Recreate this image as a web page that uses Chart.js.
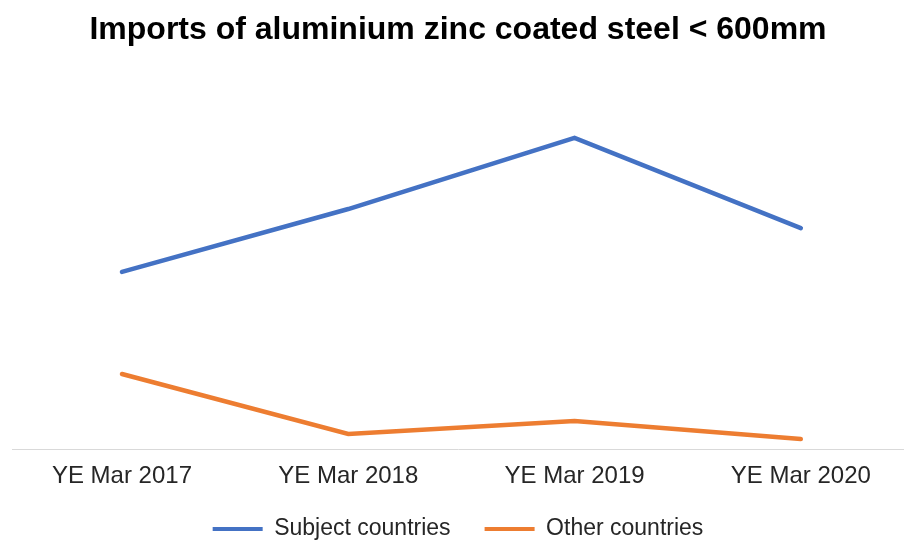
<!DOCTYPE html>
<html>
<head>
<meta charset="utf-8">
<script src="https://cdn.jsdelivr.net/npm/chart.js@4"></script>
<style>
  html, body { margin: 0; padding: 0; background: #fff; }
  #wrap { width: 904px; height: 541px; }
</style>
</head>
<body>
<div id="wrap"><canvas id="imports"></canvas></div>
<script>
const categories = ["YE Mar 2017", "YE Mar 2018", "YE Mar 2019", "YE Mar 2020"];
const subjectCountries = [5600, 7580, 9820, 6980];
const otherCountries = [2380, 490, 900, 330];

const toPoints = (values) => values.map((v, i) => ({ x: i, y: v }));

const ctx = document.getElementById("imports").getContext("2d");
Chart.defaults.font.family = "'Liberation Sans', Arial, sans-serif";
Chart.defaults.color = "#404040";

// tick labels hang below the (shortened) x axis box, so widen its clip area
const unclipTicks = {
  id: "unclipTicks",
  afterLayout(chart) {
    chart.scales.x.bottom = chart.height;
  },
};

new Chart(ctx, {
  type: "line",
  data: {
    datasets: [
      {
        label: "Subject countries",
        data: toPoints(subjectCountries),
        borderColor: "#4472c4",
        backgroundColor: "#4472c4",
        borderWidth: 4.5,
        pointRadius: 0,
        borderCapStyle: "round",
      },
      {
        label: "Other countries",
        data: toPoints(otherCountries),
        borderColor: "#ed7d31",
        backgroundColor: "#ed7d31",
        borderWidth: 4.5,
        pointRadius: 0,
        borderCapStyle: "round",
      },
    ],
  },
  plugins: [unclipTicks],
  options: {
    responsive: true,
    maintainAspectRatio: false,
    animation: false,
    layout: {
      padding: { left: 12, right: 0, top: 0, bottom: 0 },
    },
    scales: {
      x: {
        type: "linear",
        min: -0.486,
        max: 3.456,
        afterBuildTicks: (scale) => {
          scale.ticks = categories.map((_, i) => ({ value: i }));
        },
        afterFit: (scale) => {
          scale.height = 34;
        },
        grid: { display: false, drawTicks: false },
        border: { display: true, color: "#d9d9d9", width: 1 },
        ticks: {
          padding: 12,
          font: { size: 24 },
          color: "#262626",
          maxRotation: 0,
          autoSkip: false,
          callback: (value) => categories[value],
        },
      },
      y: {
        display: false,
        min: 0,
        max: 12000,
      },
    },
    plugins: {
      title: {
        display: true,
        text: "Imports of aluminium zinc coated steel < 600mm",
        color: "#000",
        font: { size: 32, weight: "bold", lineHeight: 1.2 },
        padding: { top: 10.8, bottom: 19.6 },
      },
      legend: {
        position: "bottom",
        maxHeight: 57.5,
        labels: {
          boxWidth: 50,
          boxHeight: 4,
          padding: 34,
          color: "#262626",
          font: { size: 23 },
          generateLabels: (chart) =>
            Chart.defaults.plugins.legend.labels
              .generateLabels(chart)
              .map((item) => ({ ...item, lineWidth: 0 })),
        },
      },
      tooltip: { enabled: false },
    },
  },
});
</script>
</body>
</html>
